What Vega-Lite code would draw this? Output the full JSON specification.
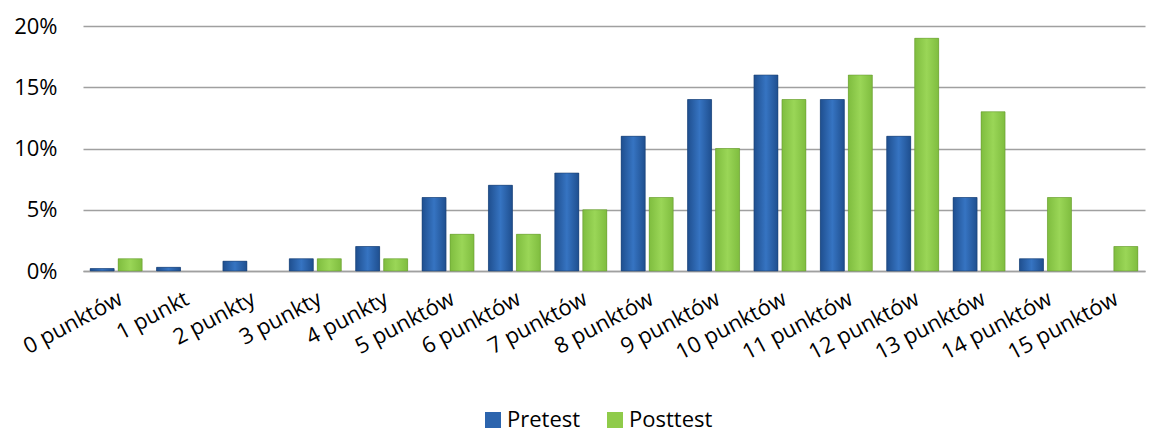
{
  "$schema": "https://vega.github.io/schema/vega-lite/v6.json",
  "autosize": {"type": "none"},
  "width": 1062,
  "height": 245,
  "padding": {"left": 83, "top": 26, "right": 14, "bottom": 161},
  "background": "white",
  "config": {
    "font": "Open Sans",
    "view": {"stroke": null}
  },
  "data": {
    "values": [
      {"kat": "0 punktów", "seria": "Pretest", "v": 0.002},
      {"kat": "0 punktów", "seria": "Posttest", "v": 0.01},
      {"kat": "1 punkt", "seria": "Pretest", "v": 0.003},
      {"kat": "1 punkt", "seria": "Posttest", "v": 0},
      {"kat": "2 punkty", "seria": "Pretest", "v": 0.008},
      {"kat": "2 punkty", "seria": "Posttest", "v": 0},
      {"kat": "3 punkty", "seria": "Pretest", "v": 0.01},
      {"kat": "3 punkty", "seria": "Posttest", "v": 0.01},
      {"kat": "4 punkty", "seria": "Pretest", "v": 0.02},
      {"kat": "4 punkty", "seria": "Posttest", "v": 0.01},
      {"kat": "5 punktów", "seria": "Pretest", "v": 0.06},
      {"kat": "5 punktów", "seria": "Posttest", "v": 0.03},
      {"kat": "6 punktów", "seria": "Pretest", "v": 0.07},
      {"kat": "6 punktów", "seria": "Posttest", "v": 0.03},
      {"kat": "7 punktów", "seria": "Pretest", "v": 0.08},
      {"kat": "7 punktów", "seria": "Posttest", "v": 0.05},
      {"kat": "8 punktów", "seria": "Pretest", "v": 0.11},
      {"kat": "8 punktów", "seria": "Posttest", "v": 0.06},
      {"kat": "9 punktów", "seria": "Pretest", "v": 0.14},
      {"kat": "9 punktów", "seria": "Posttest", "v": 0.10},
      {"kat": "10 punktów", "seria": "Pretest", "v": 0.16},
      {"kat": "10 punktów", "seria": "Posttest", "v": 0.14},
      {"kat": "11 punktów", "seria": "Pretest", "v": 0.14},
      {"kat": "11 punktów", "seria": "Posttest", "v": 0.16},
      {"kat": "12 punktów", "seria": "Pretest", "v": 0.11},
      {"kat": "12 punktów", "seria": "Posttest", "v": 0.19},
      {"kat": "13 punktów", "seria": "Pretest", "v": 0.06},
      {"kat": "13 punktów", "seria": "Posttest", "v": 0.13},
      {"kat": "14 punktów", "seria": "Pretest", "v": 0.01},
      {"kat": "14 punktów", "seria": "Posttest", "v": 0.06},
      {"kat": "15 punktów", "seria": "Pretest", "v": 0},
      {"kat": "15 punktów", "seria": "Posttest", "v": 0.02}
    ]
  },
  "encoding": {
    "x": {
      "field": "kat",
      "type": "nominal",
      "sort": null,
      "scale": {"paddingInner": 0.217, "paddingOuter": 0.108},
      "axis": {
        "title": null,
        "labelAngle": -28,
        "labelAlign": "right",
        "labelBaseline": "top",
        "labelFontSize": 22,
        "labelColor": "#000000",
        "labelPadding": 17,
        "labelDx": 11,
        "labelOverlap": false,
        "ticks": false,
        "domainColor": "#a0a0a0",
        "domainWidth": 1.5,
        "grid": false
      }
    },
    "xOffset": {
      "field": "seria",
      "type": "nominal",
      "sort": ["Pretest", "Posttest"],
      "scale": {"domain": ["Pretest", "Posttest"], "paddingInner": 0.143}
    },
    "y": {
      "field": "v",
      "type": "quantitative",
      "scale": {"domain": [0, 0.2]},
      "axis": {
        "title": null,
        "format": ".0%",
        "values": [0, 0.05, 0.1, 0.15, 0.2],
        "labelFontSize": 22,
        "labelColor": "#000000",
        "labelPadding": 26,
        "ticks": false,
        "domain": false,
        "gridColor": "#a0a0a0",
        "gridWidth": 1.5
      }
    }
  },
  "layer": [
    {
      "mark": {"type": "bar"},
      "encoding": {
        "color": {
          "field": "seria",
          "type": "nominal",
          "sort": ["Pretest", "Posttest"],
          "scale": {"domain": ["Pretest", "Posttest"], "range": ["#2c64ad", "#8fcb4a"]},
          "legend": {
            "title": null,
            "orient": "none",
            "direction": "horizontal",
            "legendX": 399,
            "legendY": 383,
            "symbolType": "square",
            "symbolSize": 256,
            "symbolStrokeWidth": 0,
            "labelFontSize": 22,
            "labelColor": "#000000",
            "labelOffset": 3,
            "columnPadding": 23
          }
        }
      }
    },
    {
      "transform": [{"filter": "datum.seria === 'Pretest' && datum.v > 0"}],
      "mark": {
        "type": "bar",
        "stroke": "#1a3d6e",
        "strokeWidth": 0.8,
        "strokeOpacity": 0.7,
        "fill": {
          "gradient": "linear",
          "x1": 0, "y1": 0, "x2": 1, "y2": 0,
          "stops": [
            {"offset": 0, "color": "#1f4f8f"},
            {"offset": 0.5, "color": "#3674c2"},
            {"offset": 1, "color": "#1f4f8f"}
          ]
        }
      }
    },
    {
      "transform": [{"filter": "datum.seria === 'Posttest' && datum.v > 0"}],
      "mark": {
        "type": "bar",
        "stroke": "#5f8f2a",
        "strokeWidth": 0.8,
        "strokeOpacity": 0.6,
        "fill": {
          "gradient": "linear",
          "x1": 0, "y1": 0, "x2": 1, "y2": 0,
          "stops": [
            {"offset": 0, "color": "#7fbd3f"},
            {"offset": 0.5, "color": "#9ad657"},
            {"offset": 1, "color": "#7fbd3f"}
          ]
        }
      }
    }
  ]
}
